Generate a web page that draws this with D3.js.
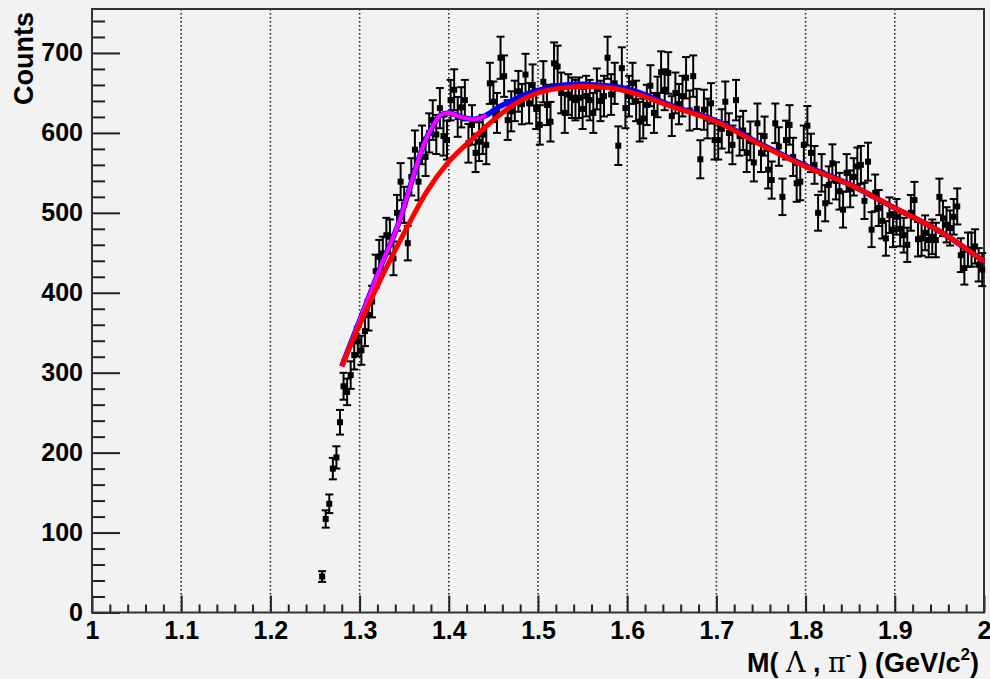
<!DOCTYPE html>
<html>
<head>
<meta charset="utf-8">
<script src="https://cdn.jsdelivr.net/npm/d3@7/dist/d3.min.js"></script>
<style>
  body { margin: 0; background: #f2f2f2; }
  text { font-family: 'Liberation Sans', Arial, sans-serif; font-weight: bold; fill: #000; }
</style>
</head>
<body>
<svg></svg>
<script>

// histogram: counts per 0.004 GeV bin, first bin starts at 1.256

const binStart = 1.256, binWidth = 0.004;

const counts = [
  45, 117, 136, 180, 194, 238, 283, 276, 297, 322,
  339, 328, 352, 372, 389, 427, 445, 449, 472, 470,
  443, 500, 539, 510, 462, 545, 579, 539, 585, 570,
  600, 616, 598, 631, 596, 591, 641, 654, 620, 632,
  641, 587, 610, 575, 589, 598, 585, 662, 639, 625,
  694, 671, 616, 627, 640, 652, 636, 673, 637, 660,
  630, 610, 664, 635, 614, 687, 683, 650, 625, 648,
  644, 641, 644, 630, 646, 641, 625, 655, 640, 646,
  694, 648, 662, 584, 681, 631, 646, 662, 640, 614,
  618, 635, 659, 625, 645, 676, 654, 675, 621, 650,
  636, 646, 669, 628, 671, 630, 567, 629, 618, 637,
  591, 591, 605, 639, 600, 585, 641, 596, 603, 575,
  590, 563, 612, 575, 596, 554, 541, 612, 583, 520,
  591, 610, 570, 537, 539, 585, 609, 575, 560, 500,
  550, 512, 535, 562, 540, 527, 504, 550, 530, 545,
  558, 560, 515, 564, 479, 525, 506, 490, 468, 497,
  479, 495, 480, 472, 460, 500, 516, 467, 468, 475,
  466, 470, 466, 520, 493, 485, 481, 495, 508, 447,
  431, 454, 454, 458, 435, 429
];

// fitted curves, sampled
const totalX = [1.28, 1.30, 1.323, 1.345, 1.36, 1.371, 1.385, 1.39, 1.40, 1.413, 1.428, 1.442,
                1.457, 1.472, 1.491, 1.51, 1.53, 1.55, 1.575, 1.60, 1.65, 1.70, 1.75, 1.80,
                1.85, 1.90, 1.95, 2.00];
const totalY = [308, 365, 431, 491, 545, 583, 614, 622, 625, 620, 617, 622,
                633, 641, 650, 656, 660, 661, 659, 655, 634, 615, 586, 559,
                535, 506, 477, 439];

const bkgX = [1.28, 1.30, 1.325, 1.35, 1.375, 1.40, 1.425, 1.45, 1.475, 1.50, 1.525,
              1.55, 1.575, 1.60, 1.65, 1.70, 1.75, 1.80, 1.85, 1.90, 1.95, 2.00];
const bkgY = [308, 360, 420, 475, 526, 564, 591, 616, 637, 650, 656,
              658, 657, 652, 633, 614, 585, 558, 535, 506, 477, 439];

const peakEnd = 1.442;

// axis ticks
const xMajor = [1, 1.1, 1.2, 1.3, 1.4, 1.5, 1.6, 1.7, 1.8, 1.9, 2];
const xLabels = ['1', '1.1', '1.2', '1.3', '1.4', '1.5', '1.6', '1.7', '1.8', '1.9', '2'];
const yMajor = [0, 100, 200, 300, 400, 500, 600, 700];
const yLabels = ['0', '100', '200', '300', '400', '500', '600', '700'];


// root svg

const frame = { left: 92, right: 984, top: 9, bottom: 612.5 };

const svg = d3.select('svg')
  .attr('width', 990)
  .attr('height', 679)
  .style('background', '#f2f2f2');

const xScale = d3.scaleLinear().domain([1, 2]).range([frame.left, frame.right]);
const yScale = d3.scaleLinear().domain([0, 755]).range([frame.bottom, frame.top]);


// dotted grid at the major x ticks

svg.append('g')
  .selectAll('line')
  .data(xMajor.slice(1, -1))
  .enter()
    .append('line')
    .attr('x1', d => xScale(d))
    .attr('x2', d => xScale(d))
    .attr('y1', frame.top)
    .attr('y2', frame.bottom)
    .attr('stroke', '#222')
    .attr('stroke-width', 1.6)
    .attr('stroke-dasharray', '1.6,2.4');


// axes (ticks drawn inside the frame, root style)

const xMinor = d3.range(1, 2.0001, 0.02).filter(v => Math.abs(v * 10 - Math.round(v * 10)) > 1e-6);
const yMinor = d3.range(0, 755, 20).filter(v => v % 100 !== 0);

function styleAxis(g) {
  g.select('.domain').remove();
  g.selectAll('.tick line').attr('stroke', '#222').attr('stroke-width', 2);
  g.selectAll('.tick text')
    .style('font-size', '25px')
    .attr('fill', '#000');
}

svg.append('g')
  .attr('transform', `translate(0,${frame.bottom})`)
  .call(d3.axisBottom(xScale).tickValues(xMinor).tickSize(-8).tickFormat(''))
  .call(styleAxis);

svg.append('g')
  .attr('transform', `translate(0,${frame.bottom})`)
  .call(d3.axisBottom(xScale).tickValues(xMajor).tickSize(-17).tickPadding(9)
    .tickFormat((d, i) => xLabels[i]))
  .call(styleAxis);

svg.append('g')
  .attr('transform', `translate(${frame.left},0)`)
  .call(d3.axisLeft(yScale).tickValues(yMinor).tickSize(-13).tickFormat(''))
  .call(styleAxis);

svg.append('g')
  .attr('transform', `translate(${frame.left},0)`)
  .call(d3.axisLeft(yScale).tickValues(yMajor).tickSize(-28).tickPadding(9)
    .tickFormat((d, i) => yLabels[i]))
  .call(styleAxis);


// frame

svg.append('rect')
  .attr('x', frame.left)
  .attr('y', frame.top)
  .attr('width', frame.right - frame.left)
  .attr('height', frame.bottom - frame.top)
  .attr('fill', 'none')
  .attr('stroke', '#333')
  .attr('stroke-width', 2);


// data points with sqrt(N) error bars

const bins = counts.map((c, i) => ({ x: binStart + binWidth * (i + 0.5), y: c, err: Math.sqrt(c) }));

const pointsG = svg.append('g');

pointsG.selectAll('g')
  .data(bins)
  .enter()
    .append('g')
    .each(function(d) {
      const g = d3.select(this);
      const cx = xScale(d.x);
      const yTop = yScale(d.y + d.err), yBot = yScale(d.y - d.err);

      g.append('line')
        .attr('x1', cx).attr('x2', cx)
        .attr('y1', yTop).attr('y2', yBot)
        .attr('stroke', '#000').attr('stroke-width', 2);

      [yTop, yBot].forEach(yy => {
        g.append('line')
          .attr('x1', cx - 4).attr('x2', cx + 4)
          .attr('y1', yy).attr('y2', yy)
          .attr('stroke', '#000').attr('stroke-width', 2);
      });

      g.append('rect')
        .attr('x', cx - 3)
        .attr('y', yScale(d.y) - 3)
        .attr('width', 6)
        .attr('height', 6)
        .attr('fill', '#000');
    });


// fit curves: total (blue), peak region (magenta), background (red)

const curve = d3.line()
  .x(d => xScale(d[0]))
  .y(d => yScale(d[1]))
  .curve(d3.curveMonotoneX);

const totalPts = totalX.map((x, i) => [x, totalY[i]]);
const bkgPts = bkgX.map((x, i) => [x, bkgY[i]]);

svg.append('path')
  .attr('d', curve(totalPts))
  .attr('fill', 'none')
  .attr('stroke', '#0000ff')
  .attr('stroke-width', 5.5);

svg.append('path')
  .attr('d', curve(totalPts.filter(p => p[0] <= peakEnd)))
  .attr('fill', 'none')
  .attr('stroke', '#ff00ff')
  .attr('stroke-width', 4);

svg.append('path')
  .attr('d', curve(bkgPts))
  .attr('fill', 'none')
  .attr('stroke', '#ff0000')
  .attr('stroke-width', 5);


// axis titles

svg.append('text')
  .attr('transform', 'translate(33,12) rotate(-90)')
  .attr('text-anchor', 'end')
  .style('font-size', '27px')
  .text('Counts');

const xTitle = svg.append('text')
  .attr('x', 979)
  .attr('y', 672)
  .attr('text-anchor', 'end')
  .style('font-size', '27px');

xTitle.append('tspan').text('M( ');
xTitle.append('tspan').text('\u039B').style('font-family', "'DejaVu Serif', serif").style('font-weight', 'normal');
xTitle.append('tspan').text(' , ');
xTitle.append('tspan').text('\u03C0').style('font-family', "'DejaVu Serif', serif").style('font-weight', 'normal');
xTitle.append('tspan').text('-').attr('dy', -12).style('font-size', '16px');
xTitle.append('tspan').text(' ) (GeV/c').attr('dy', 12);
xTitle.append('tspan').text('2').attr('dy', -12).style('font-size', '17px');
xTitle.append('tspan').text(')').attr('dy', 12);

</script>
</body>
</html>
